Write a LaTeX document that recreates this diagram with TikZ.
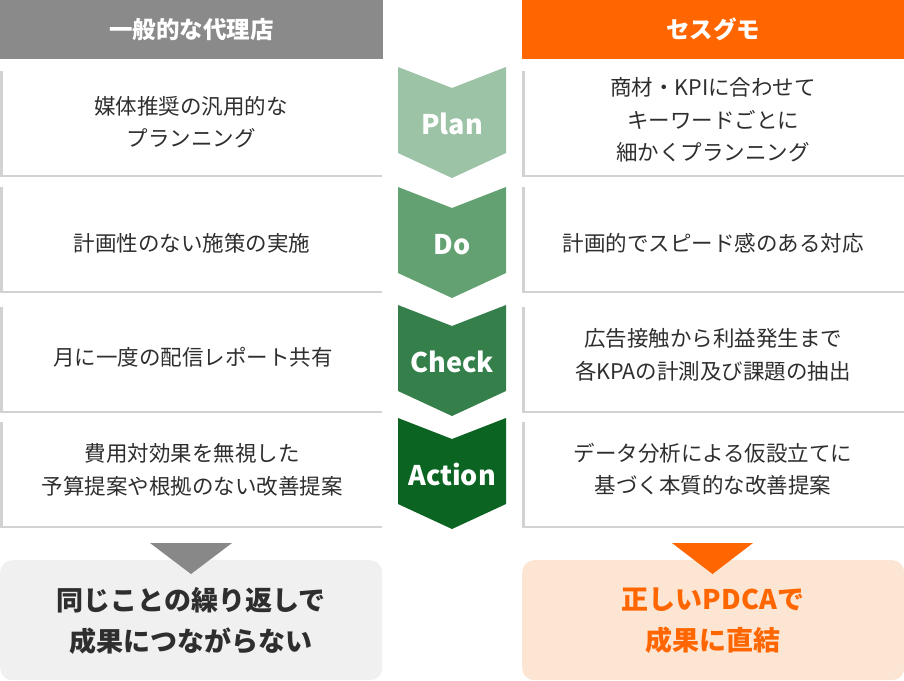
\documentclass[tikz,border=0pt]{standalone}
\usepackage{fontspec}
\setmainfont{Noto Sans CJK JP}
\usetikzlibrary{calc}
\definecolor{hdgray}{HTML}{8A8A8A}
\definecolor{hdorange}{HTML}{FF6600}
\definecolor{bordc}{HTML}{D2D2D2}
\definecolor{txt}{HTML}{2E2E2E}
\definecolor{cplan}{HTML}{9CC3A6}
\definecolor{cdo}{HTML}{64A172}
\definecolor{ccheck}{HTML}{347F4A}
\definecolor{caction}{HTML}{0B6421}
\definecolor{bgL}{HTML}{F0F0F0}
\definecolor{bgR}{HTML}{FDE5D3}
\definecolor{triG}{HTML}{888888}
\tikzset{
  hdbox/.style={anchor=north west, inner sep=0pt, minimum height=58.5pt, minimum width=#1, text=white, font=\bfseries\fontsize{23.5}{28}\selectfont},
  rowbox/.style={anchor=north west, inner sep=0pt, minimum width=382pt, minimum height=106pt},
  rowtxt/.style={text=txt, align=center, inner sep=0pt, font=\fontsize{21.5}{32.5}\selectfont},
  bordline/.style={draw=bordc, line width=2.5pt},
  chevtxt/.style={text=white, anchor=base, inner sep=0pt, font=\bfseries\fontsize{27}{32}\selectfont},
  resbox/.style={anchor=north west, rounded corners=12pt, inner sep=0pt, minimum width=382pt, minimum height=120pt},
  restxt/.style={align=center, inner sep=0pt, font=\bfseries\fontsize{27}{41}\selectfont}
}
\begin{document}
\begin{tikzpicture}[x=1pt,y=-1pt]
\useasboundingbox (0,0) rectangle (904,680);
% headers
\node[hdbox=383pt, fill=hdgray] (hL) at (0,0) {一般的な代理店};
\node[hdbox=382pt, fill=hdorange] (hR) at (522,0) {セスグモ};
% row boxes
\node[rowbox] (L1) at (0,71) {};
\node[rowbox] (L2) at (0,187) {};
\node[rowbox] (L3) at (0,307) {};
\node[rowbox] (L4) at (0,422) {};
\node[rowbox] (R1) at (522,71) {};
\node[rowbox] (R2) at (522,187) {};
\node[rowbox] (R3) at (522,307) {};
\node[rowbox] (R4) at (522,422) {};
\foreach \b in {L1,L2,L3,L4,R1,R2,R3,R4}{
  \draw[bordline] ($(\b.north west)+(1.25,0)$) -- ($(\b.south west)+(1.25,-1.25)$) -- ($(\b.south east)+(0,-1.25)$);
}
% row texts
\node[rowtxt] (tL1) at (191,122) {媒体推奨の汎用的な\\プランニング};
\node[rowtxt] (tL2) at (192,243) {計画性のない施策の実施};
\node[rowtxt] (tL3) at (193,357) {月に一度の配信レポート共有};
\node[rowtxt] (tL4) at (192,470) {費用対効果を無視した\\予算提案や根拠のない改善提案};
\node[rowtxt] (tR1) at (713,120) {商材・KPIに合わせて\\キーワードごとに\\細かくプランニング};
\node[rowtxt] (tR2) at (713,243) {計画的でスピード感のある対応};
\node[rowtxt] (tR3) at (713,355) {広告接触から利益発生まで\\各KPAの計測及び課題の抽出};
\node[rowtxt] (tR4) at (713,469) {データ分析による仮設立てに\\基づく本質的な改善提案};
% chevrons
\foreach \t/\c/\lab/\n in {67/cplan/Plan/cP, 187/cdo/Do/cD, 305/ccheck/Check/cC, 418/caction/Action/cA}{
  \fill[\c] (398,\t) -- (452,\t+21) -- (506,\t) -- (506,\t+86) -- (452,\t+111) -- (398,\t+86) -- cycle;
  \node[chevtxt] (\n) at (452,\t+67.5) {\lab};
}
% result boxes
\node[resbox, fill=bgL] (BL) at (0,560) {};
\node[resbox, fill=bgR] (BR) at (522,560) {};
\fill[triG] (150,543) -- (232,543) -- (191,574) -- cycle;
\fill[hdorange] (672,543) -- (753,543) -- (712.5,574) -- cycle;
\node[restxt, text=txt] (tBL) at (191,620.5) {同じことの繰り返しで\\成果につながらない};
\node[restxt, text=hdorange] (tBR) at (713,620.5) {正しいPDCAで\\成果に直結};
\end{tikzpicture}
\end{document}
